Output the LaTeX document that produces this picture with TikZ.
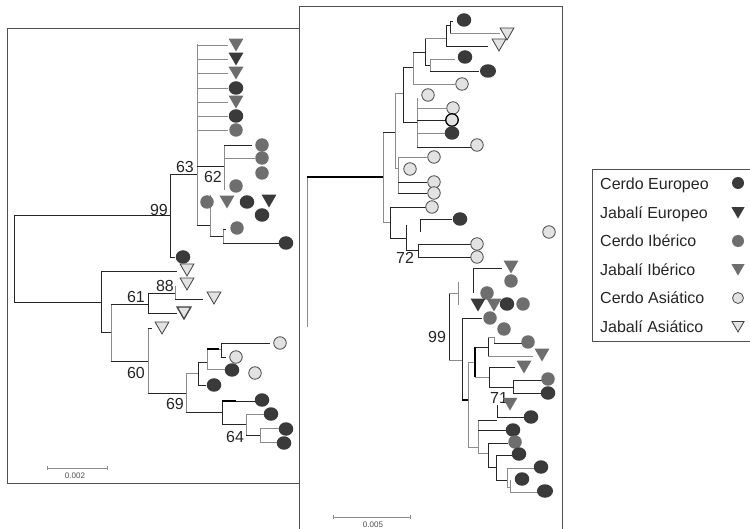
\documentclass[tikz,border=0pt]{standalone}
\usepackage{fontspec}
\setmainfont{Liberation Sans}
\usetikzlibrary{shapes.geometric}
\definecolor{cdark}{HTML}{3A3A3A}
\definecolor{cgray}{HTML}{6E6E6E}
\definecolor{clight}{HTML}{E2E2E2}
\definecolor{cframe}{HTML}{505050}
\tikzset{
 frm/.style={draw=cframe, line width=0.8pt},
 br/.style={draw=black!85, line width=0.7pt},
 brg/.style={draw=black!45, line width=0.7pt},
 brb/.style={draw=black, line width=1.5pt},
 sym/.style={inner sep=0pt, outer sep=0pt},
 cE/.style={sym, ellipse, fill=cdark, minimum width=14.5pt, minimum height=13.5pt},
 cI/.style={sym, circle, fill=cgray, minimum size=13.5pt},
 cA/.style={sym, circle, fill=clight, draw=black!70, line width=0.8pt, minimum size=12.5pt},
 tri/.style={sym, regular polygon, regular polygon sides=3, shape border rotate=180, minimum size=17pt},
 tE/.style={tri, fill=cdark},
 tI/.style={tri, fill=cgray},
 tA/.style={tri, fill=clight, draw=black!75, line width=0.8pt, minimum size=16pt},
 lab/.style={font=\fontsize{16}{16}\selectfont, inner sep=0pt, text=black!85},
 leg/.style={font=\fontsize{16}{16}\selectfont, inner sep=0pt, anchor=base west, text=black!85},
 sc/.style={font=\fontsize{8}{8}\selectfont, inner sep=0pt, text=black!70},
}
\begin{document}
\begin{tikzpicture}[x=1pt,y=-1pt]
\useasboundingbox (0,0) rectangle (750,529);
\fill[white] (0,0) rectangle (750,529);
% ---------- frames ----------
\draw[frm] (299,529) -- (299,6) -- (562,6) -- (562,529);
\draw[frm] (299,28) -- (7,28) -- (7,483) -- (299,483);
\draw[frm] (752,169) -- (592,169) -- (592,341) -- (752,341);

% ================= LEFT TREE =================
\draw[br] (14,215) -- (14,302);
\draw[br] (14,215) -- (170,215);
\draw[br] (14,302) -- (101,302);
\draw[br] (170,174) -- (170,257) -- (175,257);
\draw[br] (170,174) -- (197,174);
\draw[brg] (197,44) -- (197,225);
\foreach \y in {45,59,73,88,102,116,130} \draw[brg] (197,\y) -- (228,\y);
\draw[br] (197,166) -- (224,166);
\draw[brg] (224,145) -- (224,190);
\draw[br] (224,145) -- (252,145);
\draw[brg] (224,158) -- (255,158);
\draw[br] (197,225) -- (210,225);
\draw[brg] (210,195) -- (210,236);
\draw[br] (210,236) -- (223,236);
\draw[brg] (223,229) -- (223,243);
\draw[br] (223,229) -- (226,229);
\draw[br] (223,243) -- (280,243);
% lower clade
\draw[br] (101,271) -- (101,332);
\draw[br] (101,271) -- (177,271);
\draw[br] (101,332) -- (111,332);
\draw[brg] (111,304) -- (111,361);
\draw[br] (111,304) -- (148,304);
\draw[br] (148,293) -- (148,313);
\draw[br] (148,293) -- (175,293);
\draw[brg] (175,286) -- (175,299);
\draw[br] (175,299) -- (203,299);
\draw[br] (148,313) -- (177,313);
\draw[br] (111,361) -- (148,361);
\draw[brg] (148,328) -- (148,393);
\draw[br] (148,328) -- (152,328);
\draw[br] (148,393) -- (186,393);
\draw[brg] (186,373) -- (186,412);
\draw[brg] (186,373) -- (198,373);
\draw[br] (198,362) -- (198,385);
\draw[br] (198,362) -- (207,362);
\draw[brg] (207,349) -- (207,369);
\draw[brb] (207,349) -- (219,349);
\draw[brg] (219,349) -- (221,349);
\draw[br] (221,343) -- (221,357);
\draw[br] (221,343) -- (270,343);
\draw[br] (221,357) -- (226,357);
\draw[brg] (207,369) -- (225,369);
\draw[br] (198,385) -- (206,385);
\draw[br] (186,412) -- (222,412);
\draw[br] (222,401) -- (222,424);
\draw[brb] (222,401) -- (236,401);
\draw[br] (236,401) -- (256,401);
\draw[br] (222,424) -- (246,424);
\draw[brg] (246,414) -- (246,435);
\draw[brg] (246,414) -- (264,414);
\draw[br] (246,435) -- (260,435);
\draw[brg] (260,428) -- (260,442);
\draw[brg] (260,428) -- (279,428);
\draw[brg] (260,442) -- (277,442);
% left labels
\node[lab] (l99) at (159,210) {99};
\node[lab] (l63) at (185,167) {63};
\node[lab] (l62) at (213,177) {62};
\node[lab] (l88) at (165,286) {88};
\node[lab] (l61) at (136,297) {61};
\node[lab] (l60) at (136,373) {60};
\node[lab] (l69) at (175,404) {69};
\node[lab] (l64) at (235,437) {64};
% left symbols
\node[tI] (a1) at (236,43) {};
\node[tE] (a2) at (236,57) {};
\node[tI] (a3) at (236,71) {};
\node[cE] (a4) at (236,88) {};
\node[tI] (a5) at (236,100) {};
\node[cE] (a6) at (236,116) {};
\node[cI] (a7) at (236,130) {};
\node[cI] (a8) at (262,145) {};
\node[cI] (a9) at (262,158) {};
\node[cI] (a10) at (262,173) {};
\node[cI] (a11) at (236,186) {};
\node[cI] (a12) at (207,202) {};
\node[tI] (a13) at (227,200) {};
\node[cE] (a14) at (247,202) {};
\node[tE] (a15) at (269,199) {};
\node[cE] (a16) at (262,215) {};
\node[cI] (a17) at (237,228) {};
\node[cE] (a18) at (286,243) {};
\node[cE] (a19) at (183,257) {};
\node[tA] (b1) at (187,268) {};
\node[tA] (b2) at (187,282) {};
\node[tA] (b3) at (214,296) {};
\node[tA, line width=1.3pt] (b4) at (184,311) {};
\node[tA] (b5) at (162,326) {};
\node[cA] (b6) at (280,343) {};
\node[cA] (b7) at (236,357) {};
\node[cE] (b8) at (232,370) {};
\node[cA] (b9) at (255,373) {};
\node[cE] (b10) at (214,385) {};
\node[cE] (b11) at (262,400) {};
\node[cE] (b12) at (271,414) {};
\node[cE] (b13) at (286,429) {};
\node[cE] (b14) at (284,443) {};
% left scale bar
\draw[brg] (47,468) -- (107,468);
\draw[brg] (47,466) -- (47,470);
\draw[brg] (107,466) -- (107,470);
\node[sc] (s1) at (75,476) {0.002};

% ================= RIGHT TREE =================
\draw[brg] (307,177) -- (307,327);
\draw[brb] (307,177) -- (383,177);
\draw[brg] (383,132) -- (383,222);
\draw[br] (383,132) -- (395,132);
\draw[brg] (395,93) -- (395,168);
\draw[brg] (395,93) -- (403,93);
\draw[br] (403,67) -- (403,122);
\draw[br] (403,67) -- (413,67);
\draw[brg] (413,52) -- (413,84);
\draw[brg] (413,84) -- (455,84);
\draw[br] (413,52) -- (425,52);
\draw[br] (425,38) -- (425,65);
\draw[brg] (425,38) -- (446,38);
\draw[br] (446,25) -- (446,46);
\draw[br] (446,25) -- (450,25);
\draw[br] (450,21) -- (450,33);
\draw[br] (450,21) -- (453,21);
\draw[brg] (450,33) -- (500,33);
\draw[br] (446,46) -- (488,46);
\draw[br] (425,65) -- (430,65);
\draw[brg] (430,59) -- (430,71);
\draw[brg] (430,59) -- (455,59);
\draw[br] (430,71) -- (479,71);
\draw[br] (403,122) -- (417,122);
\draw[brg] (417,98) -- (417,147);
\draw[brg] (417,108) -- (446,108);
\draw[br] (417,120) -- (446,120);
\draw[brg] (417,133) -- (446,133);
\draw[br] (417,147) -- (471,147);
\draw[brg] (395,168) -- (398,168);
\draw[brg] (398,157) -- (398,193);
\draw[brg] (398,157) -- (427,157);
\draw[br] (398,182) -- (427,182);
\draw[br] (398,193) -- (427,193);
\draw[brg] (383,222) -- (390,222);
\draw[br] (390,207) -- (390,238);
\draw[br] (390,207) -- (426,207);
\draw[br] (390,238) -- (406,238);
\draw[br] (406,225) -- (406,250);
\draw[br] (420,219) -- (420,232);
\draw[br] (420,219) -- (452,219);
\draw[br] (406,250) -- (418,250);
\draw[br] (418,244) -- (418,257);
\draw[br] (418,244) -- (471,244);
\draw[br] (418,257) -- (471,257);
\node[lab] (r72) at (405,258) {72};
% lower 99 clade
\draw[brg] (458,282) -- (458,305);
\draw[br] (449,293) -- (449,360);
\draw[brg] (449,293) -- (458,293);
\draw[brg] (449,360) -- (462,360);
\draw[br] (473,268) -- (473,293);
\draw[br] (473,268) -- (502,268);
\draw[br] (462,318) -- (462,400);
\draw[br] (462,318) -- (482,318);
\draw[brb] (462,400) -- (468,400);
\draw[brg] (468,362) -- (468,447);
\draw[brg] (468,362) -- (475,362);
\draw[brb] (475,347) -- (475,377);
\draw[br] (475,347) -- (488,347);
\draw[br] (488,337) -- (488,356);
\draw[brg] (488,337) -- (494,337);
\draw[brg] (494,337) -- (494,343);
\draw[br] (494,343) -- (522,343);
\draw[brg] (488,356) -- (533,356);
\draw[brg] (475,377) -- (489,377);
\draw[br] (489,367) -- (489,387);
\draw[br] (489,367) -- (515,367);
\draw[br] (489,387) -- (513,387);
\draw[br] (513,380) -- (513,393);
\draw[br] (513,380) -- (542,380);
\draw[br] (513,393) -- (542,393);
\draw[brg] (468,447) -- (478,447);
\draw[brg] (478,420) -- (478,453);
\draw[br] (478,420) -- (497,420);
\draw[br] (497,405) -- (497,417);
\draw[br] (497,417) -- (524,417);
\draw[br] (478,430) -- (506,430);
\draw[brg] (478,453) -- (488,453);
\draw[br] (488,443) -- (488,467);
\draw[br] (488,443) -- (508,443);
\draw[br] (488,467) -- (496,467);
\draw[br] (496,455) -- (496,480);
\draw[br] (496,455) -- (512,455);
\draw[br] (496,480) -- (507,480);
\draw[brg] (507,468) -- (507,487);
\draw[brg] (507,468) -- (534,468);
\draw[brg] (507,487) -- (510,487);
\draw[brg] (510,480) -- (510,492);
\draw[brg] (510,492) -- (538,492);
\node[lab] (r99) at (437,337) {99};
\node[lab] (r71) at (499,398) {71};
% right symbols
\node[cE] (c1) at (464,20) {};
\node[tA] (c2) at (507,32) {};
\node[tA] (c3) at (499,43) {};
\node[cE] (c4) at (465,57) {};
\node[cE, minimum width=16pt] (c5) at (488,71) {};
\node[cA] (c6) at (462,84) {};
\node[cA] (c7) at (428,95) {};
\node[cA] (c8) at (453,108) {};
\node[cA, draw=black, line width=1.3pt] (c9) at (452,120) {};
\node[cE] (c10) at (452,133) {};
\node[cA] (c11) at (477,145) {};
\node[cA] (c12) at (434,157) {};
\node[cA] (c13) at (410,169) {};
\node[cA] (c14) at (434,182) {};
\node[cA] (c15) at (434,193) {};
\node[cA] (c16) at (432,207) {};
\node[cE] (c17) at (460,219) {};
\node[cA] (c18) at (549,232) {};
\node[cA] (c19) at (477,244) {};
\node[cA] (c20) at (477,257) {};
\node[tI] (d1) at (511,265) {};
\node[cI] (d2) at (511,281) {};
\node[cI] (d3) at (487,293) {};
\node[tE] (d4) at (478,303) {};
\node[tI] (d5) at (494,303) {};
\node[cE] (d6) at (507,304) {};
\node[cI] (d7) at (523,304) {};
\node[cI] (d8) at (490,318) {};
\node[cI] (d9) at (504,329) {};
\node[cI] (d10) at (528,342) {};
\node[tI] (d11) at (542,353) {};
\node[tI] (d12) at (524,365) {};
\node[cI] (d13) at (548,379) {};
\node[cE] (d14) at (548,393) {};
\node[tI] (d15) at (510,402) {};
\node[cE] (d16) at (531,417) {};
\node[cE] (d17) at (513,430) {};
\node[cI] (d18) at (515,442) {};
\node[cE] (d19) at (519,454) {};
\node[cE] (d20) at (541,467) {};
\node[cE] (d21) at (522,479) {};
\node[cE, minimum width=16pt] (d22) at (545,491) {};
% right scale bar
\draw[brg] (333,517) -- (410,517);
\draw[brg] (333,515) -- (333,519);
\draw[brg] (410,515) -- (410,519);
\node[sc] (s2) at (373,525) {0.005};

% ================= LEGEND =================
\node[leg] (g1) at (600,190) {Cerdo Europeo};
\node[leg] (g2) at (600,219) {Jabalí Europeo};
\node[leg] (g3) at (600,247) {Cerdo Ibérico};
\node[leg] (g4) at (600,276) {Jabalí Ibérico};
\node[leg] (g5) at (600,304) {Cerdo Asiático};
\node[leg] (g6) at (600,333) {Jabalí Asiático};
\node[cE, minimum width=12pt, minimum height=12pt] (h1) at (738,183) {};
\node[tE, minimum size=15pt] (h2) at (738,211) {};
\node[cI, minimum size=12pt] (h3) at (738,241) {};
\node[tI, minimum size=15pt] (h4) at (738,268) {};
\node[cA, minimum size=11pt] (h5) at (738,298) {};
\node[tA, minimum size=14pt] (h6) at (738,325) {};
\end{tikzpicture}
\end{document}
